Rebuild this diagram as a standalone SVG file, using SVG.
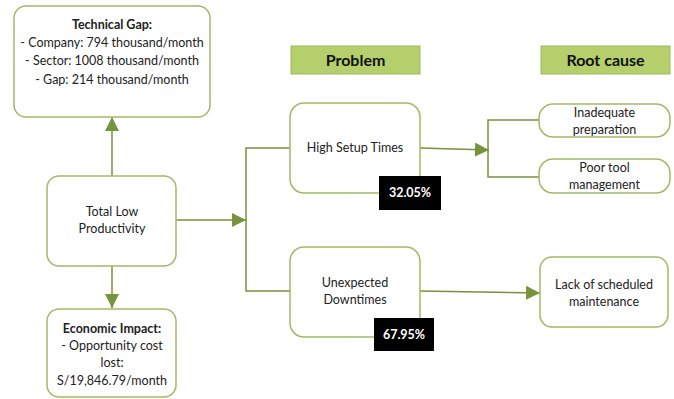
<svg xmlns="http://www.w3.org/2000/svg" width="674" height="399" viewBox="0 0 674 399">
<defs>
<marker id="ah" viewBox="0 0 10 10" refX="10" refY="5" markerWidth="14" markerHeight="14" markerUnits="userSpaceOnUse" orient="auto">
<path d="M0,0 L10,5 L0,10 Z" fill="#77933c"/>
</marker>
<style>
.box{fill:#fff;stroke:#a3b965;stroke-width:1.5}
.hdr{fill:#b5cf6c;stroke:#9bbb59;stroke-width:1}
.pct{fill:#000}
.t{font-family:Lato,"Open Sans",sans-serif;font-size:12.5px;fill:#222;text-anchor:middle}
.b{font-weight:bold}
.h{font-family:Lato,"Open Sans",sans-serif;font-size:16px;font-weight:bold;fill:#111;text-anchor:middle}
.w{font-family:Lato,"Open Sans",sans-serif;font-size:12.5px;font-weight:bold;fill:#fff;text-anchor:middle}
.c{fill:none;stroke:#77933c;stroke-width:1.5}
</style>
</defs>
<rect width="674" height="399" fill="#fff"/>
<g id="connectors">
<path class="c" d="M112,176 V117" marker-end="url(#ah)"/>
<path class="c" d="M112,266 V308" marker-end="url(#ah)"/>
<path class="c" d="M176,220 H246" marker-end="url(#ah)"/>
<path class="c" d="M290,148 H246 V291 H290"/>
<path class="c" d="M420,148 L489,150" marker-end="url(#ah)"/>
<path class="c" d="M540,120 H488 V177 H540"/>
<path class="c" d="M420,291 L540,293" marker-end="url(#ah)"/>
</g>
<g id="tech-gap">
<rect class="box" x="14" y="6" width="196" height="111" rx="12"/>
<text class="t b" x="112" y="29">Technical Gap:</text>
<text class="t" x="112" y="47">- Company: 794 thousand/month</text>
<text class="t" x="112" y="65">- Sector: 1008 thousand/month</text>
<text class="t" x="112" y="84">- Gap: 214 thousand/month</text>
</g>
<g id="total-low">
<rect class="box" x="47" y="176" width="129" height="90" rx="12"/>
<text class="t" x="112" y="216">Total Low</text>
<text class="t" x="112" y="233">Productivity</text>
</g>
<g id="economic">
<rect class="box" x="47" y="309" width="129" height="88" rx="12"/>
<text class="t b" x="112" y="333">Economic Impact:</text>
<text class="t" x="112" y="350">- Opportunity cost</text>
<text class="t" x="112" y="367">lost:</text>
<text class="t" x="112" y="385">S/19,846.79/month</text>
</g>
<g id="problem-hdr">
<rect class="hdr" x="291" y="46" width="129" height="28"/>
<text class="h" x="355.5" y="65.5">Problem</text>
</g>
<g id="root-hdr">
<rect class="hdr" x="541" y="46" width="129" height="28"/>
<text class="h" x="605.5" y="65.5">Root cause</text>
</g>
<g id="high-setup">
<rect class="box" x="290" y="103" width="130" height="90" rx="14"/>
<text class="t" x="355" y="152">High Setup Times</text>
<rect class="pct" x="379" y="176" width="62" height="34"/>
<text class="w" x="410" y="197">32.05%</text>
</g>
<g id="unexpected">
<rect class="box" x="290" y="247" width="130" height="90" rx="14"/>
<text class="t" x="355" y="287">Unexpected</text>
<text class="t" x="355" y="304">Downtimes</text>
<rect class="pct" x="374" y="318" width="60" height="33"/>
<text class="w" x="404" y="339">67.95%</text>
</g>
<g id="inadequate">
<rect class="box" x="539" y="104" width="131" height="33" rx="14"/>
<text class="t" x="604.5" y="117">Inadequate</text>
<text class="t" x="604.5" y="134">preparation</text>
</g>
<g id="poor-tool">
<rect class="box" x="539" y="159" width="131" height="34" rx="14"/>
<text class="t" x="604.5" y="172">Poor tool</text>
<text class="t" x="604.5" y="189">management</text>
</g>
<g id="lack">
<rect class="box" x="540" y="257" width="128" height="70" rx="12"/>
<text class="t" x="604" y="289">Lack of scheduled</text>
<text class="t" x="604" y="306">maintenance</text>
</g>
</svg>
